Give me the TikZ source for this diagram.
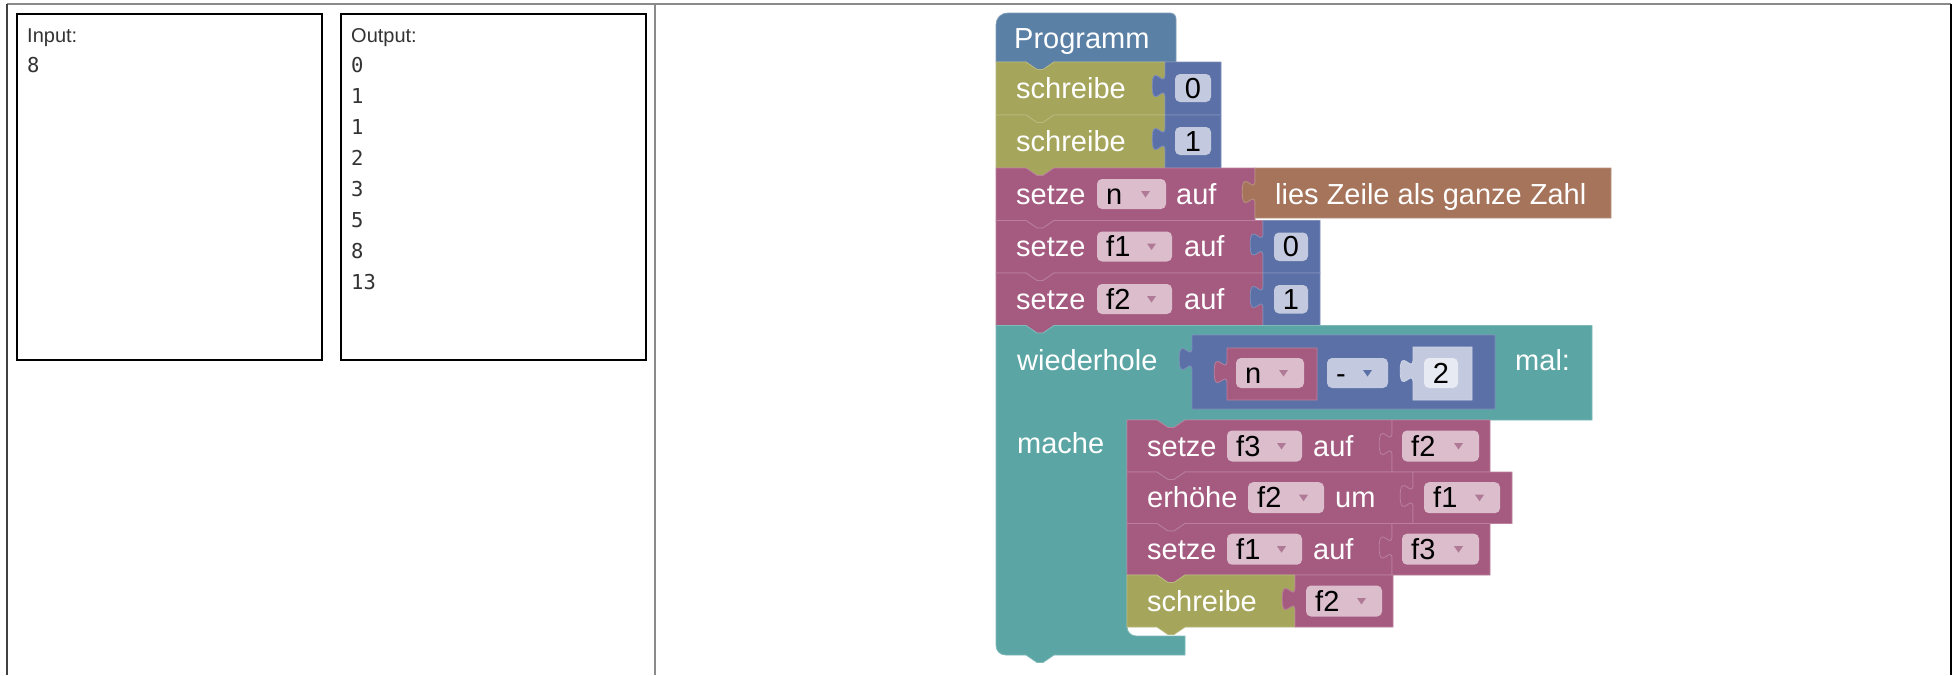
\documentclass[tikz,border=0pt]{standalone}
\usepackage{fontspec}
\setmainfont{Liberation Sans}
\newfontfamily\monofont{DejaVu Sans Mono}

\definecolor{progblue}{HTML}{5B80A5}
\definecolor{olive}{HTML}{A5A55B}
\definecolor{varmag}{HTML}{A55B80}
\definecolor{textbrown}{HTML}{A5745B}
\definecolor{loopteal}{HTML}{5BA5A5}
\definecolor{mathblue}{HTML}{5B70A6}
\definecolor{fieldpink}{HTML}{DBBDCC}
\definecolor{fieldblue}{HTML}{C3CADF}
\definecolor{shadowblue}{HTML}{C3C9DF}
\definecolor{shadowfield}{HTML}{E7EAF2}
\definecolor{arrowpink}{HTML}{B07A96}
\definecolor{framegray}{HTML}{8A8A8A}
\definecolor{iotext}{HTML}{333333}

\tikzset{
  blk/.style={fill=#1, draw=#1!78!white, line width=0.8},
  lbl/.style={anchor=base west, inner sep=0, text=white, font=\fontsize{29}{29}\selectfont},
  fldtxt/.style={anchor=base west, inner sep=0, text=black, font=\fontsize{29}{29}\selectfont},
  numtxt/.style={anchor=base, inner sep=0, text=black, font=\fontsize{29}{29}\selectfont},
  iolabel/.style={anchor=base west, inner sep=0, text=iotext, font=\fontsize{20}{20}\selectfont},
  ionum/.style={anchor=base west, inner sep=0, text=iotext, font=\monofont\fontsize{20.5}{20.5}\selectfont},
  iobox/.style={draw=black, line width=2},
}

% statement block: x0, y0, x1, y1, colour (notch on top, tab below)
\newcommand{\stmtblock}[5]{%
  \path[blk=#5] (#1,#2) -- ({#1+30},#2) -- ({#1+41},{#2+7.5}) -- ({#1+47},{#2+7.5}) -- ({#1+58},#2)
    -- (#3,#2) -- (#3,#4) -- ({#1+58},#4) -- ({#1+47},{#4+7.5}) -- ({#1+41},{#4+7.5})
    -- ({#1+30},#4) -- (#1,#4) -- cycle;}

% value block with a puzzle knob on its left edge: x0, y0, x1, y1, colour
\newcommand{\valblock}[5]{%
  \path[blk=#5] (#1,#2) -- (#1,{#2+12})
    .. controls (#1,{#2+28}) and ({#1-12.8},{#2-0.8}) .. ({#1-12.8},{#2+24})
    .. controls ({#1-12.8},{#2+48.8}) and (#1,{#2+20}) .. (#1,{#2+36})
    -- (#1,#4) -- (#3,#4) -- (#3,#2) -- cycle;}

% dropdown field: name, x0, y0, x1, y1, text, field colour, arrow colour
\newcommand{\dropfield}[8]{%
  \fill[#7, rounded corners=5] (#2,#3) rectangle (#4,#5);
  \node[fldtxt] (#1) at ({#2+9},{(#3+#5)/2+10}) {#6};
  \fill[#8] ({#4-25},{(#3+#5)/2-3}) -- ({#4-16},{(#3+#5)/2-3}) -- ({#4-20.5},{(#3+#5)/2+3.5}) -- cycle;}

% number field: name, x0, y0, x1, y1, text, field colour
\newcommand{\numfield}[7]{%
  \fill[#7, rounded corners=5] (#2,#3) rectangle (#4,#5);
  \node[numtxt] (#1) at ({(#2+#4)/2},{(#3+#5)/2+10}) {#6};}

\begin{document}
\begin{tikzpicture}[x=1pt, y=-1pt]
\useasboundingbox (0,0) rectangle (1959,675);
\fill[white] (0,0) rectangle (1959,675);

% page frame
\draw[framegray, line width=2] (7,4) -- (1951,4);
\draw[black!75, line width=2] (7,4) -- (7,675);
\draw[framegray, line width=2] (655,4) -- (655,675);
\draw[black, line width=2] (1951,4) -- (1951,675);

% input / output panes
\draw[iobox] (17,14) rectangle (322,360);
\draw[iobox] (341,14) rectangle (646,360);
\node[iolabel] (inlabel) at (27,42) {Input:};
\node[ionum] (in1) at (27,72) {8};
\node[iolabel] (outlabel) at (351,42) {Output:};
\node[ionum] (out1) at (351,72) {0};
\node[ionum] (out2) at (351,103.1) {1};
\node[ionum] (out3) at (351,134.2) {1};
\node[ionum] (out4) at (351,165.3) {2};
\node[ionum] (out5) at (351,196.4) {3};
\node[ionum] (out6) at (351,227.5) {5};
\node[ionum] (out7) at (351,258.6) {8};
\node[ionum] (out8) at (351,289.7) {13};

% ---------- program hat block ----------
\path[blk=progblue] (996,62) -- (996,25) .. controls (996,18) and (1001,13) .. (1008,13)
  -- (1170,13) .. controls (1173.5,13) and (1176,15.5) .. (1176,19) -- (1176,62)
  -- (1054,62) -- (1043,69.5) -- (1037,69.5) -- (1026,62) -- cycle;
\node[lbl] (prog) at (1014,48) {Programm};

% schreibe 0
\stmtblock{996}{62}{1165}{115}{olive}
\node[lbl] (wr0) at (1016,98.5) {schreibe};
\valblock{1165}{62}{1221}{115}{mathblue}
\numfield{num0}{1175}{74}{1211}{102}{0}{fieldblue}

% schreibe 1
\stmtblock{996}{115}{1165}{168}{olive}
\node[lbl] (wr1) at (1016,151.5) {schreibe};
\valblock{1165}{115}{1221}{168}{mathblue}
\numfield{num1}{1175}{127}{1211}{155}{1}{fieldblue}

% setze n auf (lies Zeile als ganze Zahl)
\stmtblock{996}{168}{1255}{220.5}{varmag}
\node[lbl] (setn) at (1016,204.3) {setze};
\dropfield{varn}{1097}{179}{1166}{209}{n}{fieldpink}{arrowpink}
\node[lbl] (aufn) at (1176,204.3) {auf};
\valblock{1255}{168}{1611}{218}{textbrown}
\node[lbl] (readline) at (1275,204.3) {lies Zeile als ganze Zahl};

% setze f1 auf 0
\stmtblock{996}{220.5}{1263}{273}{varmag}
\node[lbl] (setfa) at (1016,256.8) {setze};
\dropfield{varfa}{1097}{231.5}{1172}{261.5}{f1}{fieldpink}{arrowpink}
\node[lbl] (auffa) at (1184,256.8) {auf};
\valblock{1263}{220.5}{1320}{273}{mathblue}
\numfield{numfa}{1274}{232.5}{1308}{261}{0}{fieldblue}

% setze f2 auf 1
\stmtblock{996}{273}{1263}{325.5}{varmag}
\node[lbl] (setfb) at (1016,309.3) {setze};
\dropfield{varfb}{1097}{284}{1172}{314}{f2}{fieldpink}{arrowpink}
\node[lbl] (auffb) at (1184,309.3) {auf};
\valblock{1263}{273}{1320}{325.5}{mathblue}
\numfield{numfb}{1274}{285}{1308}{313.5}{1}{fieldblue}

% ---------- repeat loop ----------
\path[blk=loopteal] (996,325.5) -- (1026,325.5) -- (1037,333) -- (1043,333) -- (1054,325.5)
  -- (1592,325.5) -- (1592,420) -- (1185,420) -- (1174,427.5) -- (1168,427.5) -- (1157,420)
  -- (1127,420) -- (1127,627) .. controls (1127,632) and (1131,636) .. (1136,636)
  -- (1185,636) -- (1185,655) -- (1054,655) -- (1043,662.5) -- (1037,662.5) -- (1026,655)
  -- (1006,655) .. controls (1000,655) and (996,651) .. (996,645) -- cycle;
\node[lbl] (repeat) at (1017,370) {wiederhole};
\node[lbl] (times) at (1515,370) {mal:};
\node[lbl] (doit) at (1017,453) {mache};

% n - 2
\valblock{1192}{335}{1495}{409}{mathblue}
\valblock{1227}{348}{1317}{400}{varmag}
\dropfield{varnn}{1236}{358}{1304}{388}{n}{fieldpink}{arrowpink}
\dropfield{minus}{1327}{358}{1388}{388}{-}{fieldblue}{mathblue}
\valblock{1413}{347}{1472}{400}{shadowblue}
\numfield{numtwo}{1424}{358}{1458}{388}{2}{shadowfield}

% setze f3 auf f2
\stmtblock{1127}{420}{1392}{472}{varmag}
\node[lbl] (setfc) at (1147,456) {setze};
\dropfield{varfc}{1227}{430.5}{1302}{461.5}{f3}{fieldpink}{arrowpink}
\node[lbl] (auffc) at (1313,456) {auf};
\valblock{1392}{420}{1490}{472}{varmag}
\dropfield{getfb}{1402}{430.5}{1479}{461.5}{f2}{fieldpink}{arrowpink}

% erhoehe f2 um f1
\stmtblock{1127}{472}{1413}{523.5}{varmag}
\node[lbl] (incr) at (1147,507.7) {erhöhe};
\dropfield{varinc}{1248}{482.2}{1324}{513.2}{f2}{fieldpink}{arrowpink}
\node[lbl] (by) at (1335,507.7) {um};
\valblock{1413}{472}{1512}{523.5}{varmag}
\dropfield{getfa}{1424}{482.2}{1500}{513.2}{f1}{fieldpink}{arrowpink}

% setze f1 auf f3
\stmtblock{1127}{523.5}{1392}{575}{varmag}
\node[lbl] (setfd) at (1147,559.2) {setze};
\dropfield{varfd}{1227}{533.7}{1302}{564.7}{f1}{fieldpink}{arrowpink}
\node[lbl] (auffd) at (1313,559.2) {auf};
\valblock{1392}{523.5}{1490}{575}{varmag}
\dropfield{getfc}{1402}{533.7}{1479}{564.7}{f3}{fieldpink}{arrowpink}

% schreibe f2
\stmtblock{1127}{575}{1295}{627}{olive}
\node[lbl] (wr2) at (1147,611) {schreibe};
\valblock{1295}{575}{1393}{627}{varmag}
\dropfield{getfd}{1306}{585.5}{1382}{616.5}{f2}{fieldpink}{arrowpink}

\end{tikzpicture}
\end{document}
